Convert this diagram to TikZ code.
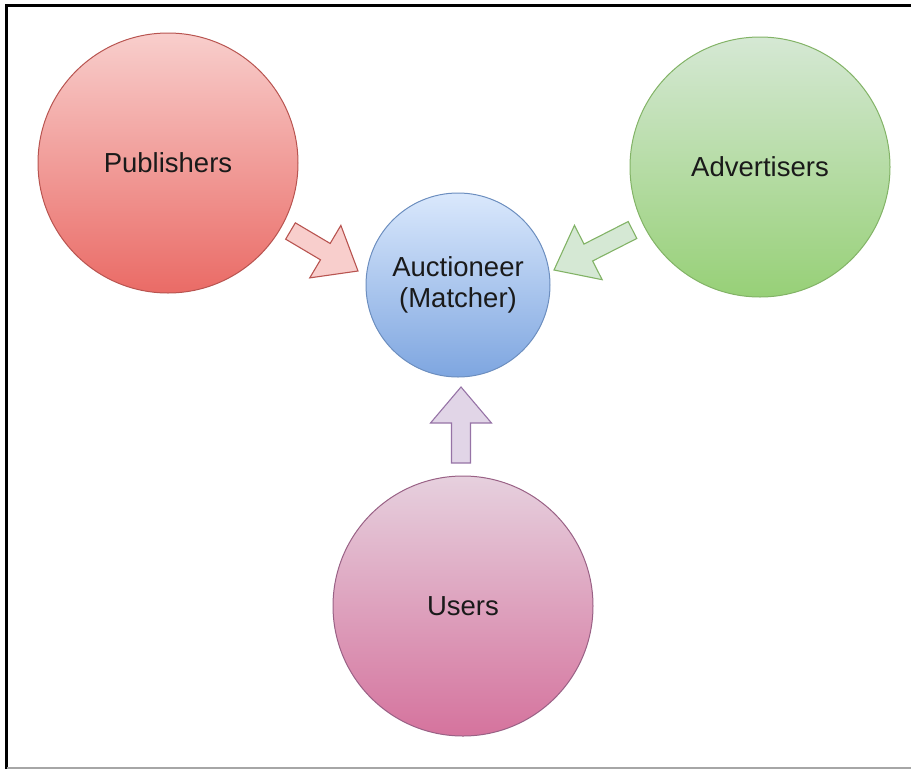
\documentclass[tikz,border=0pt]{standalone}
\usepackage{fontspec}
\setmainfont{Liberation Sans}
\usetikzlibrary{calc}
\definecolor{pubtop}{HTML}{F8CECC}\definecolor{pubbot}{HTML}{EA6B66}\definecolor{publine}{HTML}{B85450}
\definecolor{advtop}{HTML}{D5E8D4}\definecolor{advbot}{HTML}{97D077}\definecolor{advline}{HTML}{82B366}
\definecolor{auctop}{HTML}{DAE8FC}\definecolor{aucbot}{HTML}{7EA6E0}\definecolor{aucline}{HTML}{6C8EBF}
\definecolor{usrtop}{HTML}{E6D0DE}\definecolor{usrbot}{HTML}{D5739D}\definecolor{usrline}{HTML}{996185}
\definecolor{purfill}{HTML}{E1D5E7}\definecolor{purline}{HTML}{9673A6}
\definecolor{txt}{HTML}{1A1A1A}
\newcommand\blockarrow[4]{%
  \coordinate (hb) at ($(#3)!#4!(#2)$);
  \draw[#1] ($(#2)!9.5pt!90:(#3)$) -- ($(hb)!9.5pt!90:(#3)$) -- ($(hb)!30.5pt!90:(#3)$) -- (#3)
    -- ($(hb)!30.5pt!-90:(#3)$) -- ($(hb)!9.5pt!-90:(#3)$) -- ($(#2)!9.5pt!-90:(#3)$) -- cycle;}
\tikzset{
  bubble/.style={circle, draw=#1line, line width=1pt, top color=#1top, bottom color=#1bot,
    inner sep=0pt, text=txt, font=\fontsize{27.5}{31}\selectfont, align=center},
  arrowpub/.style={fill=pubtop, draw=publine, line width=1.1pt, line join=miter},
  arrowadv/.style={fill=advtop, draw=advline, line width=1.1pt, line join=miter},
  arrowusr/.style={fill=purfill, draw=purline, line width=1.1pt, line join=miter},
}
\begin{document}
\begin{tikzpicture}[x=1pt,y=-1pt]
\useasboundingbox (0,0) rectangle (911,769);
% frame
\draw[line width=3pt, black] (6,769) -- (6,5) -- (911,5);
\draw[line width=1.5pt, black!35] (7,768) -- (911,768);
% circles
\node[bubble=pub, minimum size=260pt] (pub) at (168,163) {Publishers};
\node[bubble=adv, minimum size=260pt] (adv) at (760,167) {Advertisers};
\node[bubble=auc, minimum size=184pt] (auc) at (458,285) {Auctioneer\\(Matcher)};
\node[bubble=usr, minimum size=260pt] (usr) at (463,606) {Users};
% arrows
\coordinate (pubtail) at (290.5,231);
\coordinate (pubtip) at (358,271);
\coordinate (advtail) at (632.5,230);
\coordinate (advtip) at (554,270);
\coordinate (usrtail) at (461,463);
\coordinate (usrtip) at (461,387);
\blockarrow{arrowpub}{pubtail}{pubtip}{38pt}
\blockarrow{arrowadv}{advtail}{advtip}{38.5pt}
\blockarrow{arrowusr}{usrtail}{usrtip}{36pt}
\end{tikzpicture}
\end{document}
